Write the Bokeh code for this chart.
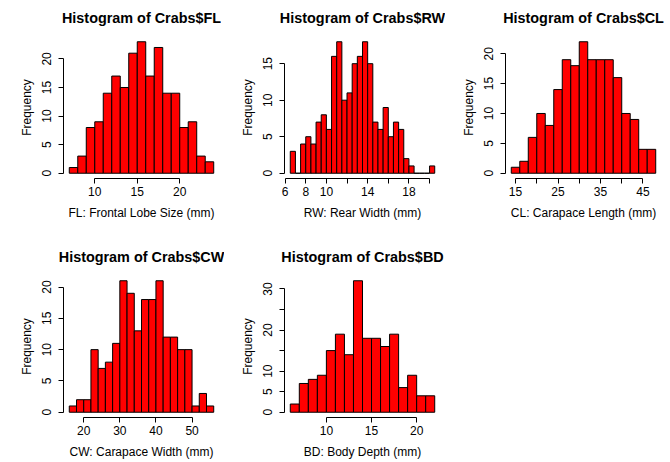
from bokeh.plotting import figure
from bokeh.models import Range1d, FixedTicker
from bokeh.layouts import column, row
from bokeh.embed import file_html
from bokeh.resources import INLINE

FONT = "Liberation Sans"

# Crab morphology measurements: histogram break points and bin counts
fl_breaks = [7, 8, 9, 10, 11, 12, 13, 14, 15, 16, 17, 18, 19, 20, 21, 22, 23, 24]
fl_counts = [1, 3, 8, 9, 14, 17, 15, 21, 23, 17, 22, 14, 14, 8, 9, 3, 2]

rw_breaks = [6.5, 7, 7.5, 8, 8.5, 9, 9.5, 10, 10.5, 11, 11.5, 12, 12.5, 13, 13.5,
             14, 14.5, 15, 15.5, 16, 16.5, 17, 17.5, 18, 18.5, 19, 19.5, 20, 20.5]
rw_counts = [3, 0, 4, 5, 4, 7, 8, 6, 16, 18, 10, 11, 15, 16, 18,
             15, 7, 6, 9, 5, 7, 6, 2, 1, 0, 0, 0, 1]

cl_breaks = [14, 16, 18, 20, 22, 24, 26, 28, 30, 32, 34, 36, 38, 40, 42, 44, 46, 48]
cl_counts = [1, 2, 6, 10, 8, 14, 19, 18, 22, 19, 19, 19, 16, 10, 9, 4, 4]

cw_breaks = [16, 18, 20, 22, 24, 26, 28, 30, 32, 34, 36, 38, 40, 42, 44, 46, 48, 50, 52, 54, 56]
cw_counts = [1, 2, 2, 10, 7, 8, 11, 21, 19, 13, 18, 18, 21, 12, 12, 10, 10, 1, 3, 1]

bd_breaks = [6, 7, 8, 9, 10, 11, 12, 13, 14, 15, 16, 17, 18, 19, 20, 21, 22]
bd_counts = [2, 7, 8, 9, 15, 19, 14, 32, 18, 18, 16, 19, 6, 9, 4, 4]

# Axis ticks (tick labels that would collide are left blank)
fl_xticks = [10, 15, 20]
rw_xticks = [6, 8, 10, 12, 14, 16, 18, 20]
rw_xhidden = [12, 16, 20]
cl_xticks = [15, 20, 25, 30, 35, 40, 45]
cl_xhidden = [20, 30, 40]
cw_xticks = [20, 30, 40, 50]
bd_xticks = [10, 15, 20]

y20_ticks = [0, 5, 10, 15, 20]
rw_yticks = [0, 5, 10, 15]
bd_yticks = [0, 5, 10, 15, 20, 25, 30]
bd_yhidden = [15, 25]

FRAME_W, FRAME_H = 156, 142


def style_axis(ax, ticks, hidden, label):
    ax.ticker = FixedTicker(ticks=ticks)
    ax.bounds = (ticks[0], ticks[-1])
    ax.major_label_overrides = {t: "" for t in hidden}
    ax.minor_tick_line_color = None
    ax.major_tick_in = 0
    ax.major_tick_out = 5
    ax.axis_line_color = "black"
    ax.major_tick_line_color = "black"
    ax.major_label_text_font = FONT
    ax.major_label_text_font_size = "12px"
    ax.major_label_text_color = "black"
    ax.axis_label = label
    ax.axis_label_text_font = FONT
    ax.axis_label_text_font_size = "12px"
    ax.axis_label_text_font_style = "normal"
    ax.axis_label_text_color = "black"


def hist_panel(title, xlabel, breaks, counts, xticks, yticks,
               xhidden=(), yhidden=(), width=221, height=238, top=36, left=63):
    lo, hi = breaks[0], breaks[-1]
    ymax = max(counts)
    dx = 0.04 * (hi - lo)
    dy = 0.04 * ymax
    p = figure(width=width, height=height,
               x_range=Range1d(lo - dx, hi + dx), y_range=Range1d(-dy, ymax + dy),
               output_backend="svg", toolbar_location=None,
               min_border_left=left, min_border_right=width - left - FRAME_W,
               min_border_top=top, min_border_bottom=height - top - FRAME_H)
    p.outline_line_color = None
    p.xgrid.visible = False
    p.ygrid.visible = False
    p.background_fill_color = "white"
    p.border_fill_color = "white"

    p.title.text = title
    p.title.align = "center"
    p.title.vertical_align = "top"
    p.title.text_font = FONT
    p.title.text_font_size = "14.4px"
    p.title.text_font_style = "bold"
    p.title.text_color = "black"
    p.title.standoff = 17

    p.quad(left=breaks[:-1], right=breaks[1:], bottom=0, top=counts,
           fill_color="red", line_color="black", line_width=1)

    style_axis(p.xaxis[0], xticks, xhidden, xlabel)
    p.xaxis.major_label_standoff = 3
    p.xaxis.axis_label_standoff = 7
    style_axis(p.yaxis[0], yticks, yhidden, "Frequency")
    p.yaxis.major_label_orientation = "vertical"
    p.yaxis.major_label_standoff = 7
    p.yaxis.axis_label_standoff = 6
    return p


p1 = hist_panel("Histogram of Crabs$FL", "FL: Frontal Lobe Size (mm)",
                fl_breaks, fl_counts, fl_xticks, y20_ticks, width=221)
p2 = hist_panel("Histogram of Crabs$RW", "RW: Rear Width (mm)",
                rw_breaks, rw_counts, rw_xticks, rw_yticks, xhidden=rw_xhidden, width=224)
p3 = hist_panel("Histogram of Crabs$CL", "CL: Carapace Length (mm)",
                cl_breaks, cl_counts, cl_xticks, y20_ticks, xhidden=cl_xhidden,
                width=225, left=60)
p4 = hist_panel("Histogram of Crabs$CW", "CW: Carapace Width (mm)",
                cw_breaks, cw_counts, cw_xticks, y20_ticks, width=224, height=224, top=37)
p5 = hist_panel("Histogram of Crabs$BD", "BD: Body Depth (mm)",
                bd_breaks, bd_counts, bd_xticks, bd_yticks, yhidden=bd_yhidden,
                width=221, height=224, top=37, left=60)

page = column(row(p1, p2, p3), row(p4, p5))

open("out.html", "w").write(file_html(page, INLINE))
